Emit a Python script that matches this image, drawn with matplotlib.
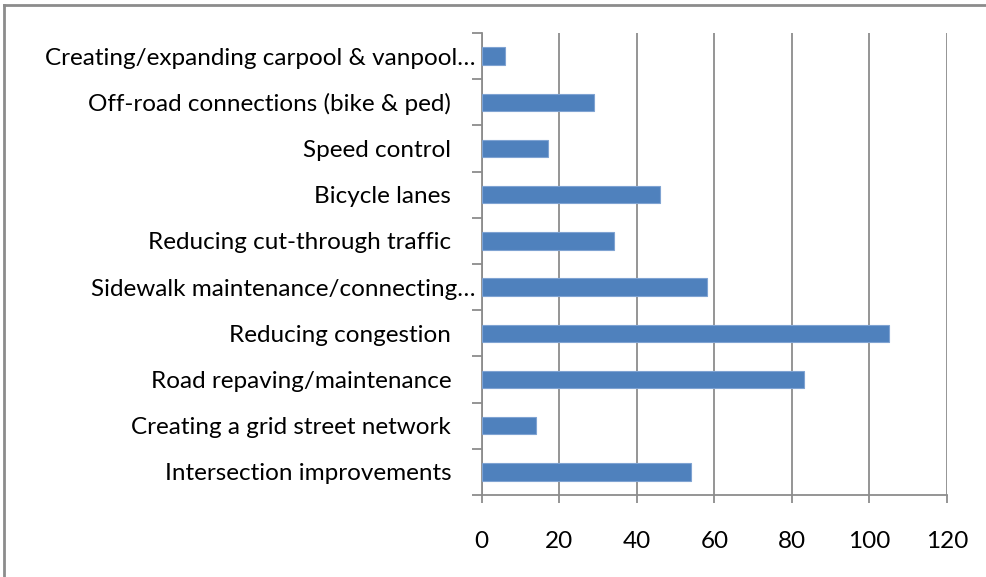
import matplotlib
matplotlib.use("Agg")
import matplotlib.pyplot as plt
import matplotlib.transforms as mtransforms
from matplotlib.lines import Line2D
import numpy as np

categories = [
    "Intersection improvements",
    "Creating a grid street network",
    "Road repaving/maintenance",
    "Reducing congestion",
    "Sidewalk maintenance/connecting…",
    "Reducing cut-through traffic",
    "Bicycle lanes",
    "Speed control",
    "Off-road connections (bike & ped)",
    "Creating/expanding carpool & vanpool…",
]
values = [54, 14, 83, 105, 58, 34, 46, 17, 29, 6]
xticks = [0, 20, 40, 60, 80, 100, 120]

W, H = 986, 577
fig = plt.figure(figsize=(W / 100, H / 100), dpi=100)
fig.patch.set_facecolor("white")

ax = fig.add_axes([481.7 / W, (H - 495) / H, (947 - 481.7) / W, (495 - 33) / H])
y = np.arange(len(categories))
ax.barh(y, values, height=0.38, color="#4F81BD", edgecolor="#7FA3D2", linewidth=0.8, zorder=3)

ax.set_xlim(0, 120)
ax.set_ylim(-0.5, len(categories) - 0.5)
ax.set_xticks(xticks)
ax.set_xticklabels([str(t) for t in xticks])
ax.grid(axis="x", color="#8C8C8C", linewidth=1.3, zorder=0)
ax.grid(axis="y", visible=False)

for s in ["top", "right"]:
    ax.spines[s].set_visible(False)
for s in ["left", "bottom"]:
    ax.spines[s].set_color("#8C8C8C")
    ax.spines[s].set_linewidth(1.3)

font = "Lato"
fs = 17.5
ax.tick_params(axis="x", direction="out", length=6, width=1.3, color="#8C8C8C",
               labelsize=fs, pad=20, labelcolor="#000000")
for lab in ax.get_xticklabels():
    lab.set_fontfamily(font)

# y labels at category centers, minor ticks at boundaries
ax.set_yticks(y)
ax.set_yticklabels(categories)
ax.tick_params(axis="y", which="major", length=0, pad=22, labelsize=fs)
ax.set_yticks(np.arange(-0.5, len(categories), 1.0), minor=True)
ax.tick_params(axis="y", which="minor", direction="out", length=7, width=1.3, color="#8C8C8C")
for lab in ax.get_yticklabels():
    lab.set_fontfamily(font)
    if lab.get_text().endswith("…"):
        off = mtransforms.ScaledTranslation(24 / 100, 0, fig.dpi_scale_trans)
        lab.set_transform(lab.get_transform() + off)

# outer chart border (top and left visible)
fig.add_artist(Line2D([4 / W, 4 / W], [0, (H - 5) / H], color="#8C8C8C", linewidth=2,
                      transform=fig.transFigure))
fig.add_artist(Line2D([4 / W, 1], [(H - 5) / H, (H - 5) / H], color="#8C8C8C", linewidth=2,
                      transform=fig.transFigure))

fig.savefig("out.png", dpi=100)
